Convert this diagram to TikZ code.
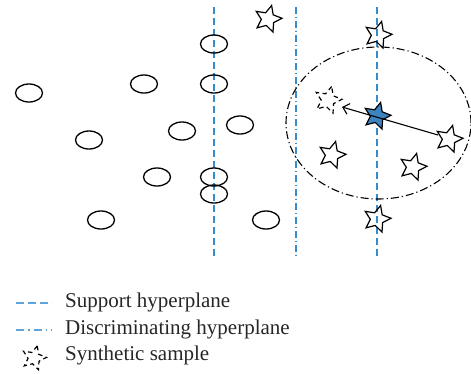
\documentclass[tikz,border=0pt]{standalone}
\usepackage{fontspec}
\setmainfont{Liberation Serif}
\usetikzlibrary{shapes.geometric,arrows.meta}
\definecolor{hblue}{RGB}{52,140,205}
\definecolor{lblue}{RGB}{95,165,220}
\definecolor{sblue}{RGB}{60,132,192}
\tikzset{
  pt/.style={ellipse,draw,line width=1.3pt,minimum width=27pt,minimum height=18pt,inner sep=0pt},
  st/.style={star,star points=5,star point ratio=2.1,draw,line width=1.2pt,minimum size=28pt,inner sep=0pt,rotate=-15},
  synst/.style={st,dash pattern=on 4.5pt off 3.5pt},
  supp/.style={hblue,line width=1.2pt,dash pattern=on 7pt off 4pt},
  disc/.style={hblue,line width=1.2pt,dash pattern=on 7pt off 3pt on 1pt off 3pt},
  lsupp/.style={lblue,line width=1.6pt,dash pattern=on 8pt off 4pt},
  ldisc/.style={lblue,line width=1.6pt,dash pattern=on 8pt off 4pt on 1.5pt off 4pt},
  lbl/.style={anchor=west,inner sep=0pt,font=\fontsize{21}{24}\selectfont,text=black!85}
}
\begin{document}
\begin{tikzpicture}[x=1pt,y=-1pt]
\useasboundingbox (0,0) rectangle (471,373);
% hyperplanes
\coordinate (s1t) at (214,7); \coordinate (s1b) at (214,256);
\coordinate (dt) at (296,7); \coordinate (db) at (296,256);
\coordinate (s2t) at (377,7); \coordinate (s2b) at (377,256);
\draw[supp] (s1t) -- (s1b);
\draw[disc] (dt) -- (db);
\draw[supp] (s2t) -- (s2b);
% circle points
\node[pt] (c1) at (29,93) {};
\node[pt] (c2) at (144,84) {};
\node[pt] (c3) at (214,84) {};
\node[pt] (c4) at (214,44) {};
\node[pt] (c5) at (240,125) {};
\node[pt] (c6) at (182,131) {};
\node[pt] (c7) at (89,140) {};
\node[pt] (c8) at (157,177) {};
\node[pt] (c9) at (214,177) {};
\node[pt] (c10) at (214,194) {};
\node[pt] (c11) at (101,220) {};
\node[pt] (c12) at (266,220) {};
% neighbourhood
\node[ellipse,draw,line width=1.1pt,minimum width=185pt,minimum height=152pt,inner sep=0pt,dash pattern=on 8pt off 3pt on 1.2pt off 3pt] (nb) at (378.5,123) {};
% stars
\node[st] (s1) at (268,19) {};
\node[st] (s2) at (378,35) {};
\node[st] (rs) at (449,139) {};
\node[st] (s4) at (332,155) {};
\node[st] (s5) at (413,167) {};
\node[st] (s6) at (377,219) {};
\node[synst] (syn) at (328,100) {};
\node[st,fill=sblue] (bs) at (377,116) {};
\draw[line width=1.1pt,-{Straight Barb[length=6pt,width=11pt]}] (rs.center) ++(-11,-4) -- (342,107);
% legend
\coordinate (l1a) at (16,303); \coordinate (l1b) at (52,303);
\coordinate (l2a) at (16,330); \coordinate (l2b) at (52,330);
\draw[lsupp] (l1a) -- (l1b);
\draw[ldisc] (l2a) -- (l2b);
\node[synst,minimum size=25pt] (lsyn) at (34,358) {};
\node[lbl] (t1) at (65,302) {Support hyperplane};
\node[lbl] (t2) at (65,329) {Discriminating hyperplane};
\node[lbl] (t3) at (65,355) {Synthetic sample};
\end{tikzpicture}
\end{document}
